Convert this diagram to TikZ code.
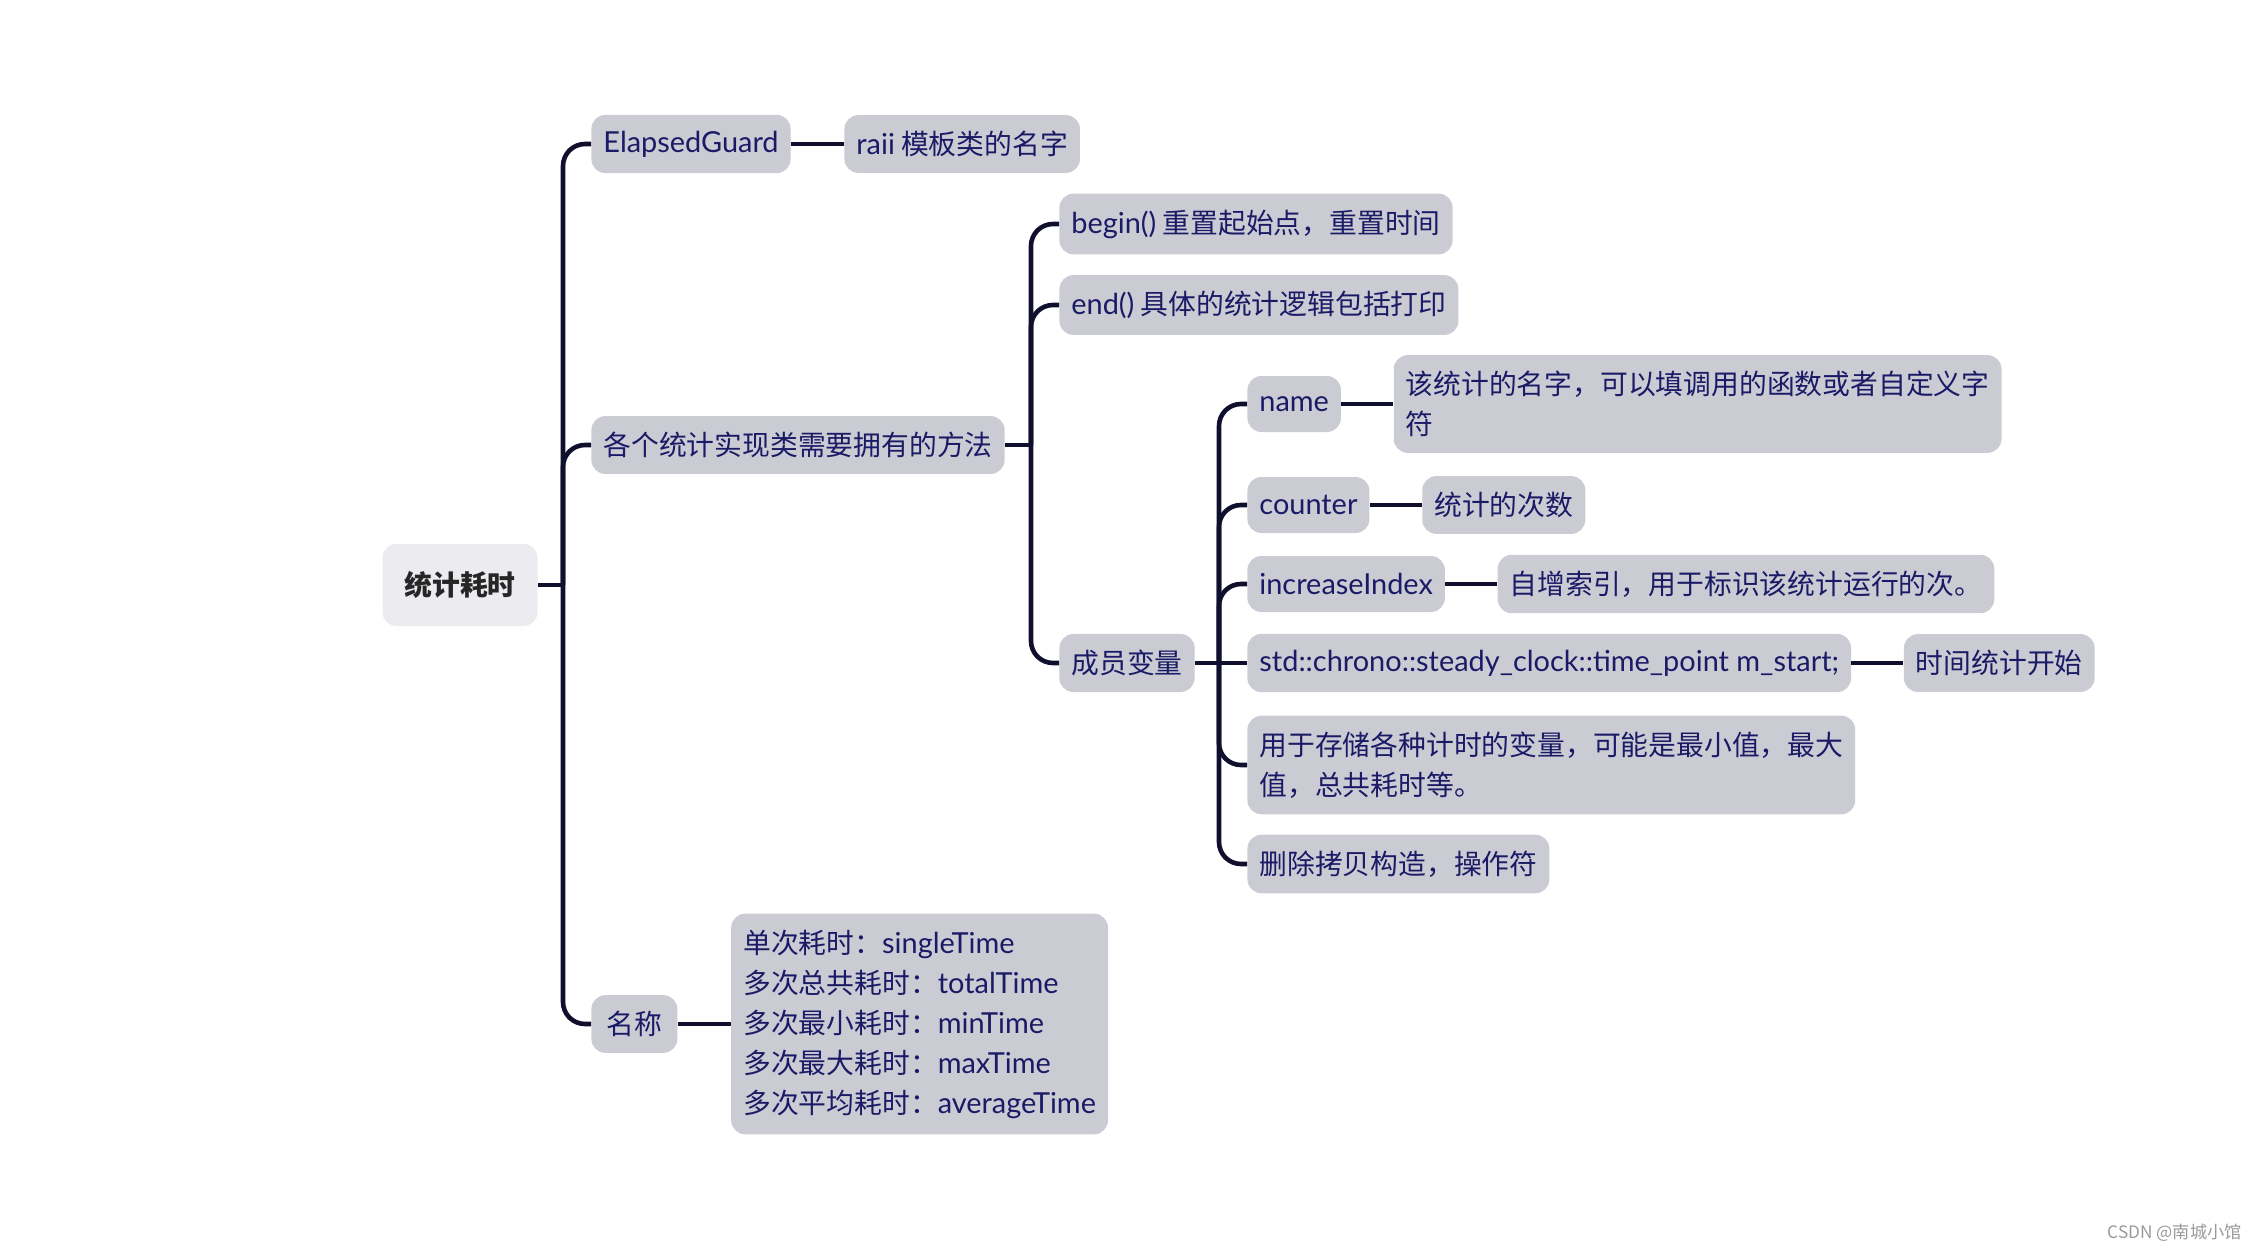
\documentclass[tikz,border=0pt]{standalone}
\usepackage{fontspec}
\setmainfont{Noto Sans CJK SC}
\newfontfamily\enfont[Scale=1.04]{Lato}
\newcommand\en[1]{{\enfont #1}}
\usepackage{tikz}
\usetikzlibrary{positioning,calc}
\definecolor{ink}      {HTML}{1A1A66}
\definecolor{wire}     {HTML}{10102E}
\definecolor{slate}    {HTML}{CBCBD4}
\definecolor{pale}     {HTML}{ECEBEF}
\definecolor{softgray} {HTML}{9A9A9A}
\tikzset{
  % --- nodes
  topic/.style  = {rounded corners=7pt, fill=slate, text=ink, align=left, anchor=west,
                   inner xsep=6pt, inner ysep=8pt, minimum height=28pt,
                   font=\fontsize{13.9}{20}\selectfont},
  rootbox/.style= {topic, fill=pale, text=black!85, anchor=center, align=center,
                   minimum width=77.5pt, minimum height=41pt,
                   font=\fontsize{13.9}{20}\selectfont\bfseries},
  credit/.style = {anchor=east, text=softgray, inner sep=0pt,
                   font=\fontsize{8.6}{10}\selectfont},
  % --- edges
  e/.style      = {line width=2.3pt, draw=wire, rounded corners=11pt},
}
\begin{document}
\begin{tikzpicture}[x=0.5pt, y=-0.5pt]
  \useasboundingbox (0,0) rectangle (2256,1252);
  % root and first level
  \node[rootbox] (root) at (460,585) {统计耗时};
  \node[topic] (guard) at (591,144) {\en{ElapsedGuard}};
  \node[topic, right=26.5pt of guard] (raii) {\en{raii} 模板类的名字};
  \node[topic] (methods) at (591,445) {各个统计实现类需要拥有的方法};
  \node[topic, minimum width=43pt, align=center] (naming) at (591,1024) {名称};
  \node[topic, right=26.5pt of naming] (namelist) {单次耗时：\en{singleTime}\\多次总共耗时：\en{totalTime}\\多次最小耗时：\en{minTime}\\多次最大耗时：\en{maxTime}\\多次平均耗时：\en{averageTime}};
  % methods
  \node[topic] (beginfn) at (1059,224) {\en{begin()} 重置起始点，重置时间};
  \node[topic] (endfn) at (1059,305) {\en{end()} 具体的统计逻辑包括打印};
  \node[topic] (members) at (1059,663) {成员变量};
  % members
  \node[topic] (name) at (1247,404) {\en{name}};
  \node[topic, right=26pt of name] (namedesc) {该统计的名字，可以填调用的函数或者自定义字\\符};
  \node[topic] (counter) at (1247,505) {\en{counter}};
  \node[topic, right=26pt of counter] (countdesc) {统计的次数};
  \node[topic] (incidx) at (1247,584) {\en{increaseIndex}};
  \node[topic, right=26pt of incidx] (incdesc) {自增索引，用于标识该统计运行的次。};
  \node[topic] (start) at (1247,663) {\en{std::chrono::steady\_clock::time\_point m\_start;}};
  \node[topic, right=26pt of start] (startdesc) {时间统计开始};
  \node[topic] (storage) at (1247,765) {用于存储各种计时的变量，可能是最小值，最大\\值，总共耗时等。};
  \node[topic] (nocopy) at (1247,864) {删除拷贝构造，操作符};
  \node[credit] (mark) at (2242,1233) {CSDN @南城小馆};
  % forks
  \coordinate (rootfork) at (563,585);
  \coordinate (methfork) at (1031,445);
  \coordinate (memfork) at (1219,663);
  % edges
  \draw[e] (root) -- (rootfork); \draw[e] (rootfork) |- (guard.west); \draw[e] (rootfork) |- (methods.west); \draw[e] (rootfork) |- (naming.west);
  \draw[e] (guard) -- (raii); \draw[e] (naming) -- (namelist);
  \draw[e] (methods) -- (methfork); \draw[e] (methfork) |- (beginfn.west); \draw[e] (methfork) |- (endfn.west); \draw[e] (methfork) |- (members.west);
  \draw[e] (members) -- (memfork); \draw[e] (memfork) |- (name.west); \draw[e] (memfork) |- (counter.west); \draw[e] (memfork) |- (incidx.west);
  \draw[e] (memfork) -- (start.west); \draw[e] (memfork) |- (storage.west); \draw[e] (memfork) |- (nocopy.west);
  \draw[e] (name) -- (namedesc); \draw[e] (counter) -- (countdesc); \draw[e] (incidx) -- (incdesc); \draw[e] (start) -- (startdesc);
\end{tikzpicture}
\end{document}
